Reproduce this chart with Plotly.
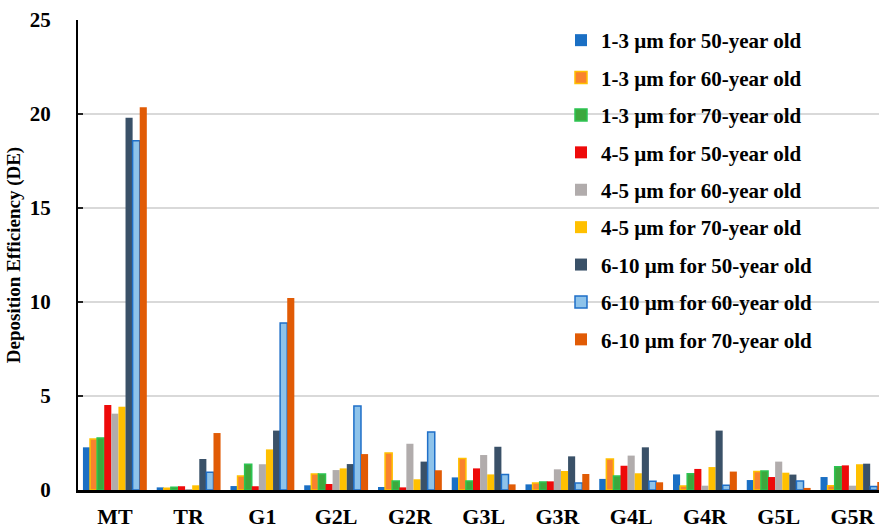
import plotly.graph_objects as go

# Airway regions along the x axis
regions = ["MT", "TR", "G1", "G2L", "G2R", "G3L", "G3R", "G4L", "G4R", "G5L", "G5R"]

# Deposition efficiency per particle size / age group
de_1_3_50 = [2.27, 0.14, 0.21, 0.25, 0.16, 0.67, 0.30, 0.59, 0.83, 0.53, 0.69]
de_1_3_60 = [2.71, 0.09, 0.74, 0.85, 1.97, 1.68, 0.37, 1.65, 0.21, 0.98, 0.23]
de_1_3_70 = [2.77, 0.14, 1.37, 0.85, 0.48, 0.48, 0.43, 0.74, 0.87, 1.01, 1.24]
de_4_5_50 = [4.52, 0.20, 0.20, 0.32, 0.14, 1.15, 0.46, 1.29, 1.12, 0.69, 1.31]
de_4_5_60 = [4.06, 0.05, 1.37, 1.06, 2.46, 1.86, 1.10, 1.83, 0.23, 1.51, 0.23]
de_4_5_70 = [4.43, 0.25, 2.16, 1.15, 0.57, 0.83, 1.01, 0.89, 1.22, 0.92, 1.37]
de_6_10_50 = [19.80, 1.65, 3.16, 1.38, 1.51, 2.30, 1.79, 2.27, 3.16, 0.82, 1.40]
de_6_10_60 = [18.58, 0.94, 8.88, 4.47, 3.09, 0.82, 0.37, 0.46, 0.25, 0.48, 0.18]
de_6_10_70 = [20.36, 3.03, 10.21, 1.91, 1.05, 0.30, 0.85, 0.41, 0.98, 0.11, 0.43]

series_names = [
    "1-3 µm for 50-year old",
    "1-3 µm for 60-year old",
    "1-3 µm for 70-year old",
    "4-5 µm for 50-year old",
    "4-5 µm for 60-year old",
    "4-5 µm for 70-year old",
    "6-10 µm for 50-year old",
    "6-10 µm for 60-year old",
    "6-10 µm for 70-year old",
]
series_values = [de_1_3_50, de_1_3_60, de_1_3_70, de_4_5_50, de_4_5_60,
                 de_4_5_70, de_6_10_50, de_6_10_60, de_6_10_70]

fills = ["#1A6FC4", "#F9822E", "#3DA83D", "#EE0A0A", "#B1ACAC",
         "#FFC000", "#3A5168", "#8EC3EA", "#E15B05"]
edges = ["#1A6FC4", "#FFC000", "#2CC452", "#EE0A0A", "#B1ACAC",
         "#FFC000", "#3A5168", "#1F6FC8", "#E15B05"]
edge_w = [0, 1.5, 1.5, 0, 0, 0, 0, 1.5, 0]

serif = "Liberation Serif, Times New Roman, serif"

fig = go.Figure()
for i, (name, vals) in enumerate(zip(series_names, series_values)):
    fig.add_trace(go.Bar(
        x=regions, y=vals, name=name, legendgroup=f"g{i}",
        marker=dict(color=fills[i], line=dict(color=edges[i], width=edge_w[i])),
    ))

fig.update_layout(
    width=879, height=529,
    margin=dict(l=78, r=0, t=20, b=39),
    paper_bgcolor="white", plot_bgcolor="white",
    barmode="group", bargap=0.134, bargroupgap=0,
    font=dict(family=serif, size=20, color="black", weight="bold"),
    legend=dict(
        x=0.603, y=1.0, xanchor="left", yanchor="top",
        bgcolor="rgba(0,0,0,0)", borderwidth=0,
        font=dict(family=serif, size=21, color="black", weight="bold"),
        tracegroupgap=7.1, itemwidth=30,
    ),
    xaxis=dict(
        range=[-0.5, 10.36], showgrid=False, ticks="",
        showline=True, linecolor="black", linewidth=2.5,
        tickfont=dict(family=serif, size=22, color="black", weight="bold"),
        ticklabelstandoff=5,
    ),
    yaxis=dict(
        range=[0, 25], dtick=5, showgrid=True, gridcolor="#D9D9D9", gridwidth=1.5,
        ticks="inside", ticklen=5, tickwidth=2, tickcolor="#222222",
        showline=True, linecolor="black", linewidth=2,
        tickfont=dict(family=serif, size=21, color="black", weight="bold"),
        ticklabelstandoff=21, zeroline=False,
        title=dict(text="Deposition Efficiency (DE)", standoff=4,
                   font=dict(family=serif, size=19, color="black", weight="bold")),
    ),
)

fig.write_html("out.html")
